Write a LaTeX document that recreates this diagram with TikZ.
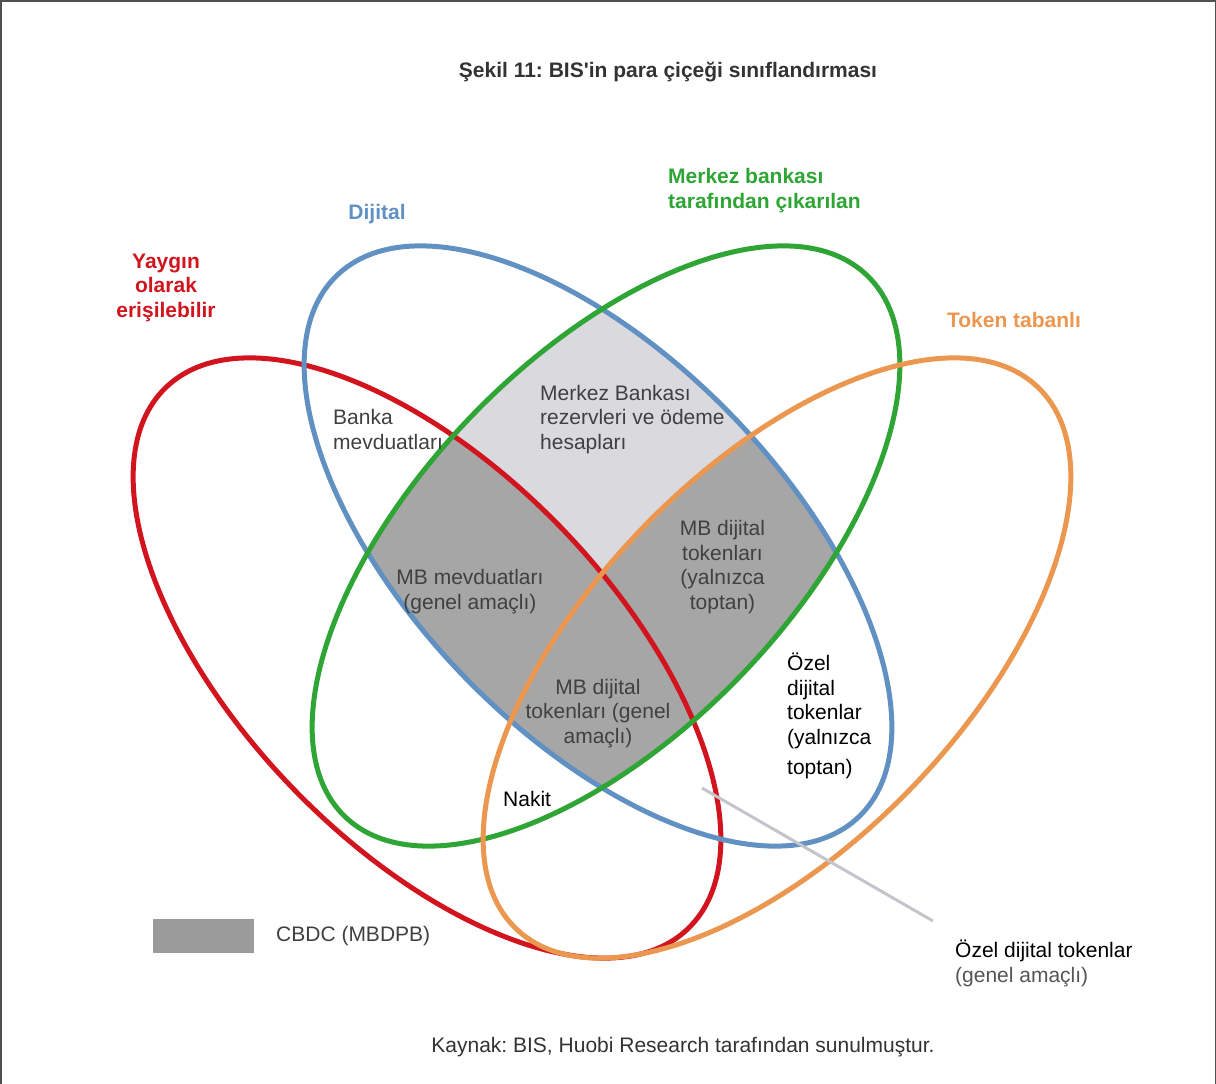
\documentclass[tikz,border=0pt]{standalone}
\usepackage{fontspec}
\setmainfont{Liberation Sans}[Ligatures=TeXOff]
\frenchspacing

\definecolor{redline}{HTML}{D2141E}
\definecolor{blueline}{HTML}{6190C3}
\definecolor{greenline}{HTML}{2EA535}
\definecolor{orangeline}{HTML}{EB974F}
\definecolor{lightfill}{HTML}{D9D9DE}
\definecolor{darkfill}{HTML}{A6A6A6}
\definecolor{legendfill}{HTML}{9B9B9B}
\definecolor{labelgray}{HTML}{404040}
\definecolor{titlegray}{HTML}{333333}
\definecolor{framegray}{HTML}{505050}
\definecolor{leadergray}{HTML}{C4C4CC}
\definecolor{notegray}{HTML}{555555}

\begin{document}
\begin{tikzpicture}[x=1pt,y=1pt,
  ring/.style={line width=5pt},
  redE/.style={rotate around={-46:(427,-658)}},
  blueE/.style={rotate around={-46:(598,-546)}},
  greenE/.style={rotate around={46:(606,-546)}},
  orangeE/.style={rotate around={46:(777,-658)}},
  lbl/.style={font=\fontsize{21}{24.5}\selectfont, inner sep=0pt, text=labelgray},
  hdr/.style={font=\bfseries\fontsize{21}{24.5}\selectfont, inner sep=0pt},
  leader/.style={draw=leadergray, line width=3pt}
]
\useasboundingbox (0,0) rectangle (1216,-1084);

% outer frame
\draw[framegray, line width=1.5pt] (0.75,-1090) -- (0.75,-0.75) -- (1215.25,-0.75) -- (1215.25,-1090);

% digital and central-bank overlap (light)
\begin{scope}
  \clip[blueE] (598,-546) ellipse [x radius=376pt, y radius=187pt];
  \fill[lightfill, greenE] (606,-546) ellipse [x radius=376pt, y radius=187pt];
\end{scope}

% CBDC area (dark)
\begin{scope}
  \clip[blueE] (598,-546) ellipse [x radius=376pt, y radius=187pt];
  \clip[greenE] (606,-546) ellipse [x radius=376pt, y radius=187pt];
  \fill[darkfill, redE] (427,-658) ellipse [x radius=376pt, y radius=187pt];
  \fill[darkfill, orangeE] (777,-658) ellipse [x radius=376pt, y radius=187pt];
\end{scope}

% the four petals
\draw[ring, redline, redE] (427,-658) ellipse [x radius=376pt, y radius=187pt];
\draw[ring, blueline, blueE] (598,-546) ellipse [x radius=376pt, y radius=187pt];
\draw[ring, greenline, greenE] (606,-546) ellipse [x radius=376pt, y radius=187pt];
\draw[ring, orangeline, orangeE] (777,-658) ellipse [x radius=376pt, y radius=187pt];

% title
\node[hdr, text=titlegray, anchor=base] (title) at (668,-77) {Şekil 11: BIS'in para çiçeği sınıflandırması};

% petal headings (multi-line nodes sit on the baseline of their last line)
\node[hdr, text=blueline, anchor=base] (dijital) at (377,-219) {Dijital};
\node[hdr, text=redline, anchor=base, align=center] (yaygin) at (166,-317) {Yaygın\\olarak\\erişilebilir};
\node[hdr, text=greenline, anchor=base west, align=left] (merkez) at (668,-208) {Merkez bankası\\tarafından çıkarılan};
\node[hdr, text=orangeline, anchor=base] (token) at (1014,-327) {Token tabanlı};

% region labels
\node[lbl, anchor=base west, align=left] (banka) at (333,-449) {Banka\\mevduatları};
\node[lbl, anchor=base west, align=left] (rezerv) at (540,-449) {Merkez Bankası\\rezervleri ve ödeme\\hesapları};
\node[lbl, anchor=base, align=center] (mbtoptan) at (722.5,-609) {MB dijital\\tokenları\\(yalnızca\\toptan)};
\node[lbl, anchor=base, align=center] (mbmevd) at (470,-609) {MB mevduatları\\(genel amaçlı)};
\node[lbl, anchor=base, align=center] (mbgenel) at (598,-743) {MB dijital\\tokenları (genel\\amaçlı)};
\node[lbl, text=black, anchor=base west, align=left] (ozeltoptan) at (787,-774) {Özel\\dijital\\tokenlar\\(yalnızca\\[5.5pt]toptan)};
\node[lbl, text=black, anchor=base west] (nakit) at (503,-806) {Nakit};

% pointer to general-purpose private tokens
\coordinate (leadA) at (702,-788);
\coordinate (leadB) at (933,-921);
\draw[leader] (leadA) -- (leadB);
\node[lbl, text=black, anchor=base west, align=left] (ozelgenel) at (955,-982) {Özel dijital tokenlar\\\textcolor{notegray}{(genel amaçlı)}};

% legend
\node[fill=legendfill, minimum width=101pt, minimum height=34pt, inner sep=0pt, anchor=north west] (legendbox) at (153,-919) {};
\node[lbl, anchor=base west] (cbdc) at (276,-941) {CBDC (MBDPB)};

% source line
\node[lbl, text=titlegray, anchor=base] (source) at (683,-1052) {Kaynak: BIS, Huobi Research tarafından sunulmuştur.};
\end{tikzpicture}
\end{document}
